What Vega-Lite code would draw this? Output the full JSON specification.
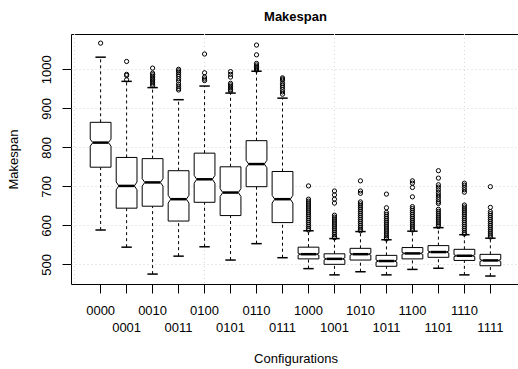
{
  "$schema": "https://vega.github.io/schema/vega-lite/v6.json",
  "width": 449,
  "height": 250,
  "autosize": "none",
  "padding": {"left": 71, "top": 34, "right": 0, "bottom": 85},
  "background": "white",
  "config": {
    "font": "Liberation Sans",
    "view": {"stroke": "black", "strokeWidth": 1},
    "axis": {"labelColor": "black", "titleColor": "black", "tickColor": "black", "labelFontSize": 13, "titleFontSize": 13, "titleFontWeight": "normal", "domain": false}
  },
  "title": {"text": "Makespan", "fontSize": 13, "fontWeight": "bold", "anchor": "middle", "frame": "group", "baseline": "alphabetic", "offset": -0.5, "color": "black"},
  "datasets": {
    "boxes": [
      {"cfg": "0000", "lo": 588, "q1": 749, "med": 812, "q3": 864, "hi": 1031, "nlo": 803, "nhi": 821},
      {"cfg": "0001", "lo": 544, "q1": 644, "med": 701, "q3": 774, "hi": 969, "nlo": 691, "nhi": 711},
      {"cfg": "0010", "lo": 475, "q1": 649, "med": 710, "q3": 771, "hi": 953, "nlo": 700.5, "nhi": 719.5},
      {"cfg": "0011", "lo": 521, "q1": 611, "med": 667, "q3": 740, "hi": 922, "nlo": 657, "nhi": 677},
      {"cfg": "0100", "lo": 545, "q1": 659, "med": 718, "q3": 785, "hi": 957, "nlo": 708, "nhi": 728},
      {"cfg": "0101", "lo": 511, "q1": 625, "med": 684, "q3": 750, "hi": 939, "nlo": 674, "nhi": 694},
      {"cfg": "0110", "lo": 553, "q1": 699, "med": 757, "q3": 817, "hi": 995, "nlo": 747.5, "nhi": 766.5},
      {"cfg": "0111", "lo": 517, "q1": 607, "med": 667, "q3": 738, "hi": 926, "nlo": 657, "nhi": 677},
      {"cfg": "1000", "lo": 489, "q1": 514, "med": 526, "q3": 544, "hi": 586, "nlo": 523.5, "nhi": 528.5},
      {"cfg": "1001", "lo": 473, "q1": 500, "med": 514, "q3": 527, "hi": 566, "nlo": 511.5, "nhi": 516.5},
      {"cfg": "1010", "lo": 481, "q1": 511, "med": 526, "q3": 541, "hi": 584, "nlo": 523.5, "nhi": 528.5},
      {"cfg": "1011", "lo": 473, "q1": 495, "med": 508.5, "q3": 523, "hi": 563, "nlo": 506, "nhi": 511},
      {"cfg": "1100", "lo": 487, "q1": 514, "med": 528, "q3": 543, "hi": 585, "nlo": 525.5, "nhi": 530.5},
      {"cfg": "1101", "lo": 490, "q1": 518, "med": 531.5, "q3": 548, "hi": 594, "nlo": 529, "nhi": 534},
      {"cfg": "1110", "lo": 473, "q1": 510, "med": 522, "q3": 538.5, "hi": 576, "nlo": 519.5, "nhi": 524.5},
      {"cfg": "1111", "lo": 470, "q1": 496.4, "med": 510, "q3": 525.6, "hi": 567, "nlo": 507.5, "nhi": 512.5}
    ],
    "outliers": [
      {"cfg": "0000", "v": 1067},
      {"cfg": "0001", "v": 1020}, {"cfg": "0001", "v": 987}, {"cfg": "0001", "v": 984}, {"cfg": "0001", "v": 973},
      {"cfg": "0010", "v": 1003}, {"cfg": "0010", "v": 990}, {"cfg": "0010", "v": 986}, {"cfg": "0010", "v": 982}, {"cfg": "0010", "v": 978}, {"cfg": "0010", "v": 974}, {"cfg": "0010", "v": 970}, {"cfg": "0010", "v": 966}, {"cfg": "0010", "v": 962}, {"cfg": "0010", "v": 958},
      {"cfg": "0011", "v": 1000}, {"cfg": "0011", "v": 996}, {"cfg": "0011", "v": 992}, {"cfg": "0011", "v": 987}, {"cfg": "0011", "v": 982}, {"cfg": "0011", "v": 976}, {"cfg": "0011", "v": 970}, {"cfg": "0011", "v": 962}, {"cfg": "0011", "v": 956}, {"cfg": "0011", "v": 951}, {"cfg": "0011", "v": 947},
      {"cfg": "0100", "v": 1039}, {"cfg": "0100", "v": 991}, {"cfg": "0100", "v": 980}, {"cfg": "0100", "v": 975}, {"cfg": "0100", "v": 971},
      {"cfg": "0101", "v": 994}, {"cfg": "0101", "v": 987}, {"cfg": "0101", "v": 980}, {"cfg": "0101", "v": 964}, {"cfg": "0101", "v": 960}, {"cfg": "0101", "v": 956}, {"cfg": "0101", "v": 952}, {"cfg": "0101", "v": 948}, {"cfg": "0101", "v": 944},
      {"cfg": "0110", "v": 1062}, {"cfg": "0110", "v": 1037}, {"cfg": "0110", "v": 1015}, {"cfg": "0110", "v": 1011}, {"cfg": "0110", "v": 1007}, {"cfg": "0110", "v": 1004}, {"cfg": "0110", "v": 1001}, {"cfg": "0110", "v": 998},
      {"cfg": "0111", "v": 978}, {"cfg": "0111", "v": 975}, {"cfg": "0111", "v": 972}, {"cfg": "0111", "v": 964}, {"cfg": "0111", "v": 959}, {"cfg": "0111", "v": 954}, {"cfg": "0111", "v": 948}, {"cfg": "0111", "v": 942}, {"cfg": "0111", "v": 936},
      {"cfg": "1000", "v": 701}, {"cfg": "1000", "v": 667}, {"cfg": "1000", "v": 662}, {"cfg": "1000", "v": 657}, {"cfg": "1000", "v": 652}, {"cfg": "1000", "v": 647}, {"cfg": "1000", "v": 642}, {"cfg": "1000", "v": 637}, {"cfg": "1000", "v": 632}, {"cfg": "1000", "v": 627}, {"cfg": "1000", "v": 622}, {"cfg": "1000", "v": 617}, {"cfg": "1000", "v": 612}, {"cfg": "1000", "v": 607}, {"cfg": "1000", "v": 602}, {"cfg": "1000", "v": 597}, {"cfg": "1000", "v": 592}, {"cfg": "1000", "v": 588},
      {"cfg": "1001", "v": 688}, {"cfg": "1001", "v": 678}, {"cfg": "1001", "v": 667}, {"cfg": "1001", "v": 657}, {"cfg": "1001", "v": 626}, {"cfg": "1001", "v": 621}, {"cfg": "1001", "v": 616}, {"cfg": "1001", "v": 611}, {"cfg": "1001", "v": 606}, {"cfg": "1001", "v": 601}, {"cfg": "1001", "v": 596}, {"cfg": "1001", "v": 591}, {"cfg": "1001", "v": 586}, {"cfg": "1001", "v": 581}, {"cfg": "1001", "v": 576}, {"cfg": "1001", "v": 571}, {"cfg": "1001", "v": 568},
      {"cfg": "1010", "v": 714}, {"cfg": "1010", "v": 688}, {"cfg": "1010", "v": 682}, {"cfg": "1010", "v": 660}, {"cfg": "1010", "v": 655}, {"cfg": "1010", "v": 650}, {"cfg": "1010", "v": 645}, {"cfg": "1010", "v": 640}, {"cfg": "1010", "v": 635}, {"cfg": "1010", "v": 630}, {"cfg": "1010", "v": 625}, {"cfg": "1010", "v": 620}, {"cfg": "1010", "v": 615}, {"cfg": "1010", "v": 610}, {"cfg": "1010", "v": 605}, {"cfg": "1010", "v": 600}, {"cfg": "1010", "v": 595}, {"cfg": "1010", "v": 590}, {"cfg": "1010", "v": 586},
      {"cfg": "1011", "v": 680}, {"cfg": "1011", "v": 645}, {"cfg": "1011", "v": 633}, {"cfg": "1011", "v": 628}, {"cfg": "1011", "v": 623}, {"cfg": "1011", "v": 618}, {"cfg": "1011", "v": 613}, {"cfg": "1011", "v": 608}, {"cfg": "1011", "v": 603}, {"cfg": "1011", "v": 598}, {"cfg": "1011", "v": 593}, {"cfg": "1011", "v": 588}, {"cfg": "1011", "v": 583}, {"cfg": "1011", "v": 578}, {"cfg": "1011", "v": 573}, {"cfg": "1011", "v": 568}, {"cfg": "1011", "v": 565},
      {"cfg": "1100", "v": 714}, {"cfg": "1100", "v": 708}, {"cfg": "1100", "v": 697}, {"cfg": "1100", "v": 673}, {"cfg": "1100", "v": 648}, {"cfg": "1100", "v": 643}, {"cfg": "1100", "v": 638}, {"cfg": "1100", "v": 633}, {"cfg": "1100", "v": 628}, {"cfg": "1100", "v": 623}, {"cfg": "1100", "v": 618}, {"cfg": "1100", "v": 613}, {"cfg": "1100", "v": 608}, {"cfg": "1100", "v": 603}, {"cfg": "1100", "v": 598}, {"cfg": "1100", "v": 593}, {"cfg": "1100", "v": 588},
      {"cfg": "1101", "v": 740}, {"cfg": "1101", "v": 721}, {"cfg": "1101", "v": 704}, {"cfg": "1101", "v": 698}, {"cfg": "1101", "v": 691}, {"cfg": "1101", "v": 684}, {"cfg": "1101", "v": 678}, {"cfg": "1101", "v": 672}, {"cfg": "1101", "v": 666}, {"cfg": "1101", "v": 660}, {"cfg": "1101", "v": 656}, {"cfg": "1101", "v": 641}, {"cfg": "1101", "v": 636}, {"cfg": "1101", "v": 631}, {"cfg": "1101", "v": 626}, {"cfg": "1101", "v": 621}, {"cfg": "1101", "v": 616}, {"cfg": "1101", "v": 611}, {"cfg": "1101", "v": 606}, {"cfg": "1101", "v": 601}, {"cfg": "1101", "v": 597},
      {"cfg": "1110", "v": 708}, {"cfg": "1110", "v": 703}, {"cfg": "1110", "v": 697}, {"cfg": "1110", "v": 691}, {"cfg": "1110", "v": 685}, {"cfg": "1110", "v": 652}, {"cfg": "1110", "v": 647}, {"cfg": "1110", "v": 642}, {"cfg": "1110", "v": 637}, {"cfg": "1110", "v": 632}, {"cfg": "1110", "v": 627}, {"cfg": "1110", "v": 622}, {"cfg": "1110", "v": 617}, {"cfg": "1110", "v": 612}, {"cfg": "1110", "v": 607}, {"cfg": "1110", "v": 602}, {"cfg": "1110", "v": 597}, {"cfg": "1110", "v": 592}, {"cfg": "1110", "v": 587}, {"cfg": "1110", "v": 582}, {"cfg": "1110", "v": 578},
      {"cfg": "1111", "v": 699}, {"cfg": "1111", "v": 646}, {"cfg": "1111", "v": 635}, {"cfg": "1111", "v": 630}, {"cfg": "1111", "v": 625}, {"cfg": "1111", "v": 620}, {"cfg": "1111", "v": 615}, {"cfg": "1111", "v": 610}, {"cfg": "1111", "v": 605}, {"cfg": "1111", "v": 600}, {"cfg": "1111", "v": 595}, {"cfg": "1111", "v": 590}, {"cfg": "1111", "v": 585}, {"cfg": "1111", "v": 580}, {"cfg": "1111", "v": 575}, {"cfg": "1111", "v": 570}
    ],
    "vg0": [{"cfg": "0000"}],
    "vg": [{"cfg": "0100"}, {"cfg": "1001"}, {"cfg": "1110"}]
  },
  "layer": [
    {
      "data": {"name": "vg0"},
      "mark": {"type": "rule", "color": "#d3d3d3", "strokeDash": [1, 3], "strokeWidth": 1},
      "encoding": {
        "x": {"field": "cfg", "type": "nominal", "bandPosition": -0.5,
          "scale": {"type": "band", "domain": ["0000","0001","0010","0011","0100","0101","0110","0111","1000","1001","1010","1011","1100","1101","1110","1111"], "paddingInner": 0, "paddingOuter": 0.64, "align": 0.5},
          "axis": {"title": "Configurations", "labelAngle": 0, "labelAlign": "center", "labelBaseline": "top", "labelOverlap": false, "labelFlush": false, "labelLineHeight": 17.3, "tickSize": 9, "labelPadding": 11, "grid": false,
            "labelExpr": "indexof(['0000','0010','0100','0110','1000','1010','1100','1110'], datum.value) >= 0 ? datum.value : ['', datum.value]",
            "titleX": 224.5, "titleY": 74, "titleAnchor": "middle", "titleAlign": "center", "titleBaseline": "middle"}}
      }
    },
    {
      "data": {"name": "vg"},
      "mark": {"type": "rule", "color": "#d3d3d3", "strokeDash": [1, 3], "strokeWidth": 1},
      "encoding": {"x": {"field": "cfg", "type": "nominal", "bandPosition": 0.5}}
    },
    {
      "data": {"name": "boxes"},
      "mark": {"type": "rule", "color": "black", "strokeDash": [3, 3], "strokeWidth": 1},
      "encoding": {
        "x": {"field": "cfg", "type": "nominal", "bandPosition": 0.5},
        "y": {"field": "q3", "type": "quantitative", "scale": {"domain": [449.6, 1090.4], "nice": false, "zero": false},
          "axis": {"title": "Makespan", "values": [500, 600, 700, 800, 900, 1000], "format": "d", "grid": true, "gridColor": "#d3d3d3", "gridDash": [1, 3], "tickSize": 9, "labelPadding": 12, "labelAngle": -90, "labelAlign": "center", "labelBaseline": "alphabetic", "labelFlush": false,
            "titleAngle": -90, "titleX": -54, "titleY": 125, "titleAlign": "center", "titleBaseline": "alphabetic", "titleAnchor": "middle"}},
        "y2": {"field": "hi"}
      }
    },
    {
      "data": {"name": "boxes"},
      "mark": {"type": "rule", "color": "black", "strokeDash": [3, 3], "strokeWidth": 1},
      "encoding": {
        "x": {"field": "cfg", "type": "nominal", "bandPosition": 0.5},
        "y": {"field": "lo", "type": "quantitative"},
        "y2": {"field": "q1"}
      }
    },
    {
      "data": {"name": "boxes"},
      "mark": {"type": "rect", "color": "white"},
      "encoding": {
        "x": {"field": "cfg", "type": "nominal", "bandPosition": 0.1},
        "x2": {"field": "cfg", "bandPosition": 0.9},
        "y": {"field": "q1", "type": "quantitative"},
        "y2": {"field": "q3"}
      }
    },
    {
      "data": {"name": "boxes"},
      "mark": {"type": "rule", "color": "black", "strokeWidth": 1},
      "encoding": {
        "x": {"field": "cfg", "type": "nominal", "bandPosition": 0.1},
        "x2": {"field": "cfg", "bandPosition": 0.9},
        "y": {"field": "q1", "type": "quantitative"}
      }
    },
    {
      "data": {"name": "boxes"},
      "mark": {"type": "rule", "color": "black", "strokeWidth": 1},
      "encoding": {
        "x": {"field": "cfg", "type": "nominal", "bandPosition": 0.1},
        "x2": {"field": "cfg", "bandPosition": 0.9},
        "y": {"field": "q3", "type": "quantitative"}
      }
    },
    {
      "data": {"name": "boxes"},
      "mark": {"type": "rule", "color": "black", "strokeWidth": 1},
      "encoding": {
        "x": {"field": "cfg", "type": "nominal", "bandPosition": 0.1},
        "y": {"field": "q1", "type": "quantitative"},
        "y2": {"field": "nlo"}
      }
    },
    {
      "data": {"name": "boxes"},
      "mark": {"type": "rule", "color": "black", "strokeWidth": 1},
      "encoding": {
        "x": {"field": "cfg", "type": "nominal", "bandPosition": 0.1},
        "y": {"field": "nhi", "type": "quantitative"},
        "y2": {"field": "q3"}
      }
    },
    {
      "data": {"name": "boxes"},
      "mark": {"type": "rule", "color": "black", "strokeWidth": 1},
      "encoding": {
        "x": {"field": "cfg", "type": "nominal", "bandPosition": 0.9},
        "y": {"field": "q1", "type": "quantitative"},
        "y2": {"field": "nlo"}
      }
    },
    {
      "data": {"name": "boxes"},
      "mark": {"type": "rule", "color": "black", "strokeWidth": 1},
      "encoding": {
        "x": {"field": "cfg", "type": "nominal", "bandPosition": 0.9},
        "y": {"field": "nhi", "type": "quantitative"},
        "y2": {"field": "q3"}
      }
    },
    {
      "data": {"name": "boxes"},
      "mark": {"type": "rule", "color": "black", "strokeWidth": 1},
      "encoding": {
        "x": {"field": "cfg", "type": "nominal", "bandPosition": 0.1},
        "x2": {"field": "cfg", "bandPosition": 0.2},
        "y": {"field": "nlo", "type": "quantitative"},
        "y2": {"field": "med"}
      }
    },
    {
      "data": {"name": "boxes"},
      "mark": {"type": "rule", "color": "black", "strokeWidth": 1},
      "encoding": {
        "x": {"field": "cfg", "type": "nominal", "bandPosition": 0.1},
        "x2": {"field": "cfg", "bandPosition": 0.2},
        "y": {"field": "nhi", "type": "quantitative"},
        "y2": {"field": "med"}
      }
    },
    {
      "data": {"name": "boxes"},
      "mark": {"type": "rule", "color": "black", "strokeWidth": 1},
      "encoding": {
        "x": {"field": "cfg", "type": "nominal", "bandPosition": 0.9},
        "x2": {"field": "cfg", "bandPosition": 0.8},
        "y": {"field": "nlo", "type": "quantitative"},
        "y2": {"field": "med"}
      }
    },
    {
      "data": {"name": "boxes"},
      "mark": {"type": "rule", "color": "black", "strokeWidth": 1},
      "encoding": {
        "x": {"field": "cfg", "type": "nominal", "bandPosition": 0.9},
        "x2": {"field": "cfg", "bandPosition": 0.8},
        "y": {"field": "nhi", "type": "quantitative"},
        "y2": {"field": "med"}
      }
    },
    {
      "data": {"name": "boxes"},
      "mark": {"type": "rule", "color": "black", "strokeWidth": 2.5},
      "encoding": {
        "x": {"field": "cfg", "type": "nominal", "bandPosition": 0.2},
        "x2": {"field": "cfg", "bandPosition": 0.8},
        "y": {"field": "med", "type": "quantitative"}
      }
    },
    {
      "data": {"name": "boxes"},
      "mark": {"type": "rule", "color": "black", "strokeWidth": 1.5},
      "encoding": {
        "x": {"field": "cfg", "type": "nominal", "bandPosition": 0.3},
        "x2": {"field": "cfg", "bandPosition": 0.7},
        "y": {"field": "hi", "type": "quantitative"}
      }
    },
    {
      "data": {"name": "boxes"},
      "mark": {"type": "rule", "color": "black", "strokeWidth": 1.5},
      "encoding": {
        "x": {"field": "cfg", "type": "nominal", "bandPosition": 0.3},
        "x2": {"field": "cfg", "bandPosition": 0.7},
        "y": {"field": "lo", "type": "quantitative"}
      }
    },
    {
      "data": {"name": "outliers"},
      "mark": {"type": "point", "shape": "circle", "filled": false, "color": "black", "size": 18, "strokeWidth": 1, "opacity": 1},
      "encoding": {
        "x": {"field": "cfg", "type": "nominal", "bandPosition": 0.5},
        "y": {"field": "v", "type": "quantitative"}
      }
    }
  ]
}
